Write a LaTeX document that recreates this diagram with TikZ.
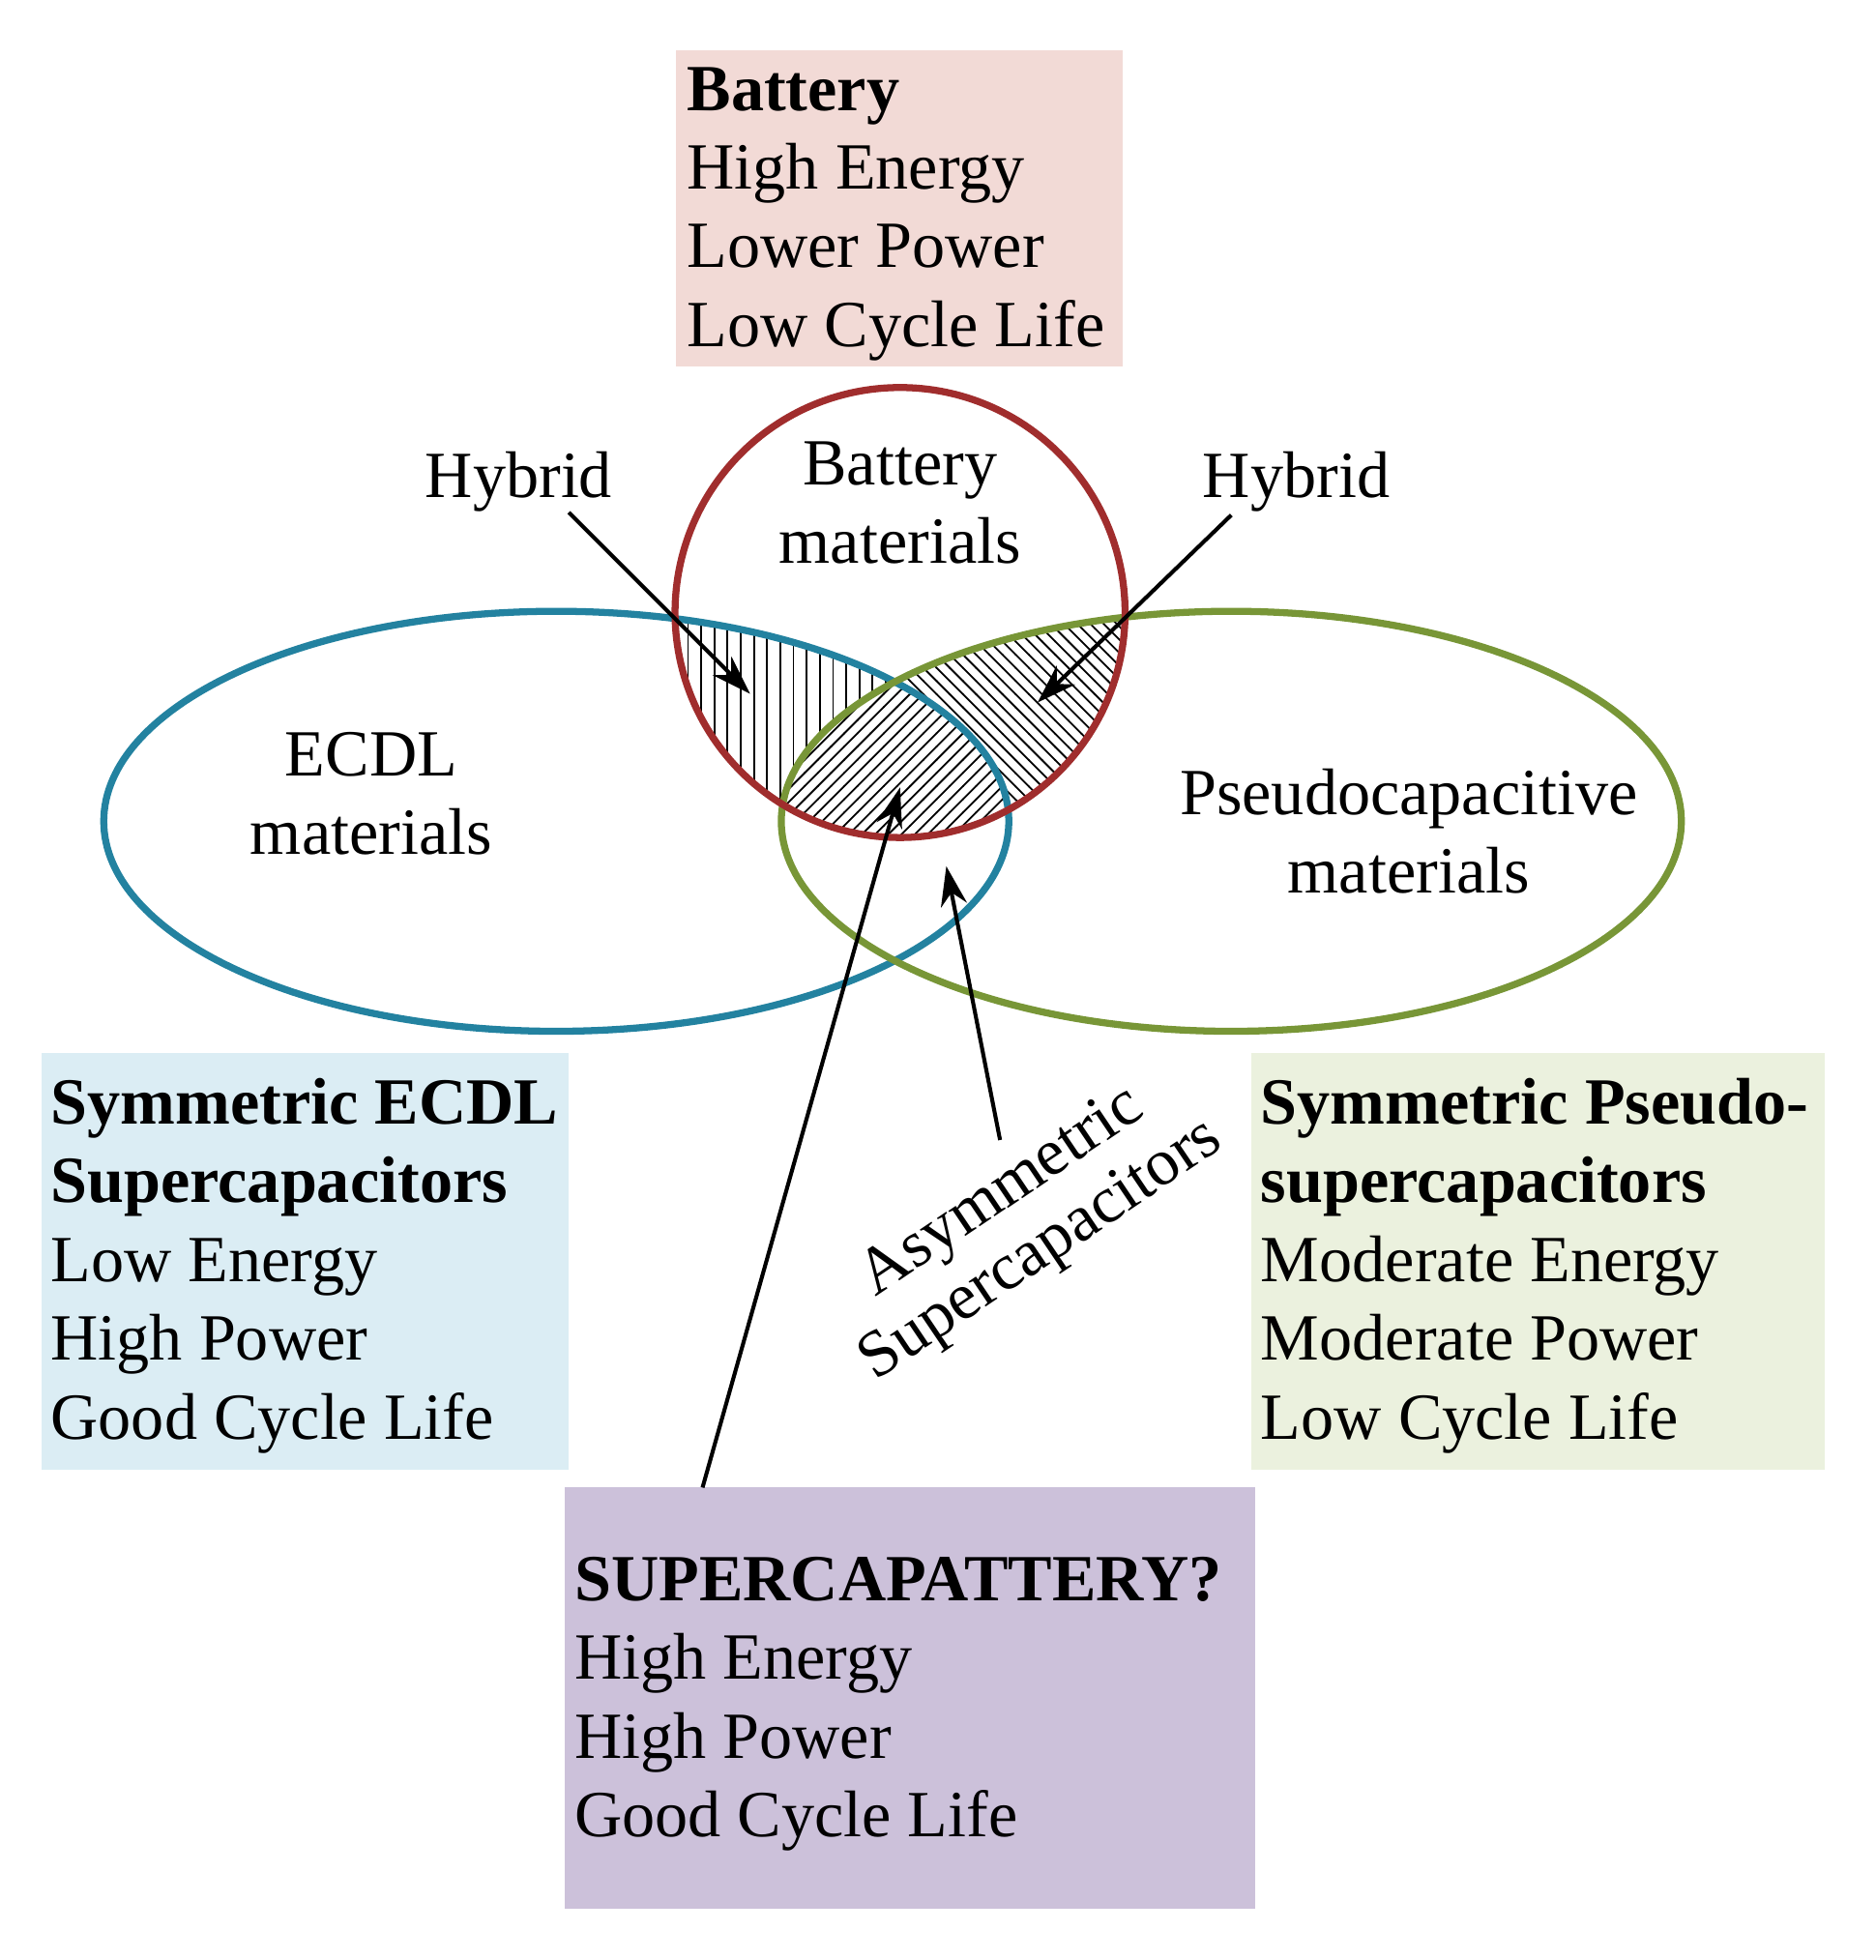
\documentclass[tikz,border=0pt]{standalone}
\usepackage{fontspec}
\setmainfont{Liberation Serif}
\usetikzlibrary{patterns,arrows.meta}
\definecolor{cred}{RGB}{160,45,45}
\definecolor{cblue}{RGB}{35,130,160}
\definecolor{cgreen}{RGB}{120,150,55}
\definecolor{bpink}{RGB}{242,218,214}
\definecolor{bblue}{RGB}{219,237,244}
\definecolor{bgreen}{RGB}{235,241,222}
\definecolor{bpurple}{RGB}{204,193,218}
\begin{document}
\begin{tikzpicture}[x=0.01cm,y=-0.01cm,
  txt/.style={font=\fontsize{15}{17.9}\selectfont,inner sep=0pt,align=left,anchor=north west},
  lbl/.style={font=\fontsize{15}{17.9}\selectfont,inner sep=0pt,align=center},
  arr/.style={-{Stealth[length=9pt,width=6pt]},line width=0.9pt}]
\useasboundingbox (0,0) rectangle (1500,1568);
% boxes
\fill[bpink] (541,40) rectangle (898,293);
\fill[bblue] (33,842) rectangle (455,1176);
\fill[bgreen] (1001,842) rectangle (1460,1176);
\fill[bpurple] (452,1190) rectangle (1004,1527);
\node[txt] (bat) at (549,53) {\textbf{Battery}\\High Energy\\Lower Power\\Low Cycle Life};
\node[txt] (ecdl) at (40,862) {\textbf{Symmetric ECDL}\\\textbf{Supercapacitors}\\Low Energy\\High Power\\Good Cycle Life};
\node[txt] (pse) at (1008,862) {\textbf{Symmetric Pseudo-}\\\textbf{supercapacitors}\\Moderate Energy\\Moderate Power\\Low Cycle Life};
\node[txt] (sc) at (459,1245) {\textbf{SUPERCAPATTERY?}\\High Energy\\High Power\\Good Cycle Life};
% hatching
\begin{scope}
 \clip (720,490) circle (180);
 \clip (445,657) ellipse (362 and 168);
 \fill[pattern=vertical lines] (300,300) rectangle (1000,700);
\end{scope}
\begin{scope}
 \clip (720,490) circle (180);
 \clip (985,657) ellipse (360 and 168);
 \fill[pattern=north west lines] (300,300) rectangle (1000,700);
\end{scope}
\begin{scope}
 \clip (720,490) circle (180);
 \clip (985,657) ellipse (360 and 168);
 \clip (445,657) ellipse (362 and 168);
 \fill[white] (300,300) rectangle (1000,700);
 \fill[pattern=north east lines] (300,300) rectangle (1000,700);
\end{scope}
% shapes
\draw[cblue,line width=1.6pt] (445,657) ellipse (362 and 168);
\draw[cgreen,line width=1.6pt] (985,657) ellipse (360 and 168);
\draw[cred,line width=1.6pt] (720,490) circle (180);
% labels
\node[lbl] (bm) at (720,402) {Battery\\materials};
\node[lbl] (em) at (297,635) {ECDL\\materials};
\node[lbl] (pm) at (1127,665) {Pseudocapacitive\\materials};
\node[lbl] (h1) at (415,385) {Hybrid};
\node[lbl] (h2) at (1037,385) {Hybrid};
\node[lbl,rotate=34,font=\fontsize{15}{16}\selectfont] (as) at (818,978) {Asymmetric\\Supercapacitors};
\coordinate (t1) at (600,555);
\coordinate (t2) at (830,562);
\coordinate (t3) at (720,630);
\coordinate (t4) at (757,693);
\coordinate (s1) at (562,1190);
\coordinate (s4) at (800,912);
\coordinate (s2) at (985,412);
\coordinate (s0) at (455,410);
\draw[arr] (s0) -- (t1);
\draw[arr] (s2) -- (t2);
\draw[arr] (s1) -- (t3);
\draw[arr] (s4) -- (t4);
\end{tikzpicture}
\end{document}
